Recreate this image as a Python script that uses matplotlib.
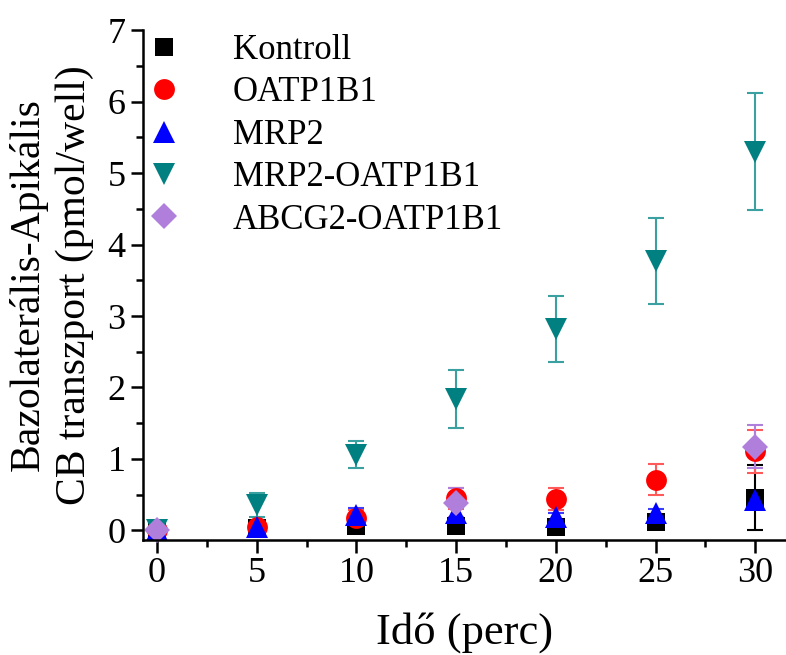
import matplotlib
matplotlib.use("Agg")
import matplotlib.pyplot as plt
from matplotlib.ticker import MultipleLocator

plt.rcParams['font.family'] = ['Liberation Serif', 'DejaVu Serif']

time = [0, 5, 10, 15, 20, 25, 30]
kontroll = [0.0, 0.03, 0.06, 0.06, 0.05, 0.12, 0.46]
kontroll_err = [0.02, 0.02, 0.03, 0.05, 0.03, 0.03, 0.46]
oatp = [0.0, 0.05, 0.18, 0.45, 0.44, 0.71, 1.11]
oatp_err = [0.02, 0.06, 0.1, 0.15, 0.15, 0.22, 0.3]
mrp2 = [0.0, 0.05, 0.21, 0.25, 0.19, 0.25, 0.43]
mrp2_err = [0.02, 0.04, 0.1, 0.18, 0.05, 0.05, 0.05]
mrp2_oatp = [0.0, 0.36, 1.06, 1.84, 2.82, 3.77, 5.3]
mrp2_oatp_err = [0.02, 0.17, 0.19, 0.4, 0.46, 0.6, 0.82]
abcg_time = [0, 15, 30]
abcg = [0.0, 0.39, 1.17]
abcg_err = [0.02, 0.2, 0.3]

labels = ['Kontroll', 'OATP1B1', 'MRP2', 'MRP2-OATP1B1', 'ABCG2-OATP1B1']
colors = ['#000000', '#ff0000', '#0000ff', '#008080', '#b07fdc']
ecolors = ['#000000', '#ff5a5a', '#3c3cff', '#3aa0a0', '#b07fdc']
markers = ['s', 'o', '^', 'v', 'D']
msizes = [13, 15, 16, 16, 13]

fig = plt.figure(figsize=(7.86, 6.55), dpi=100)
ax = fig.add_axes([0.182, 0.176, 0.817, 0.778])

series = [(time, kontroll, kontroll_err), (time, oatp, oatp_err), (time, mrp2, mrp2_err),
          (time, mrp2_oatp, mrp2_oatp_err), (abcg_time, abcg, abcg_err)]
for (x, y, e), lab, c, ec, m, ms in zip(series, labels, colors, ecolors, markers, msizes):
    cont = ax.errorbar(x, y, yerr=e, fmt=m, color=c, ecolor=ec, elinewidth=1.5, capsize=6,
                       capthick=1.5, markersize=ms, label=lab, clip_on=False)
    cont[0].set_markeredgewidth(0)

ax.set_xlim(-0.7, 31.5)
ax.set_ylim(-0.13, 7)
ax.spines['top'].set_visible(False)
ax.spines['right'].set_visible(False)
for s in ['left', 'bottom']:
    ax.spines[s].set_linewidth(1.8)
ax.xaxis.set_major_locator(MultipleLocator(5))
ax.xaxis.set_minor_locator(MultipleLocator(2.5))
ax.yaxis.set_major_locator(MultipleLocator(1))
ax.yaxis.set_minor_locator(MultipleLocator(0.5))
ax.tick_params(which='major', length=9, width=1.8, labelsize=26, direction='out')
ax.tick_params(which='minor', length=5, width=1.8, direction='out')
ax.set_xlabel('Idő (perc)', fontsize=32, labelpad=16)
ax.set_ylabel('Bazolaterális-Apikális\nCB transzport (pmol/well)', fontsize=30, linespacing=1.25, labelpad=10)

handles, labs = ax.get_legend_handles_labels()
handles = [h[0] for h in handles]
ax.legend(handles, labs, loc='upper left', bbox_to_anchor=(-0.06, 1.04), frameon=False,
          fontsize=25, handletextpad=1.0, labelspacing=0.27, borderaxespad=0.3,
          markerscale=1.0)

fig.savefig('out.png', dpi=100)
